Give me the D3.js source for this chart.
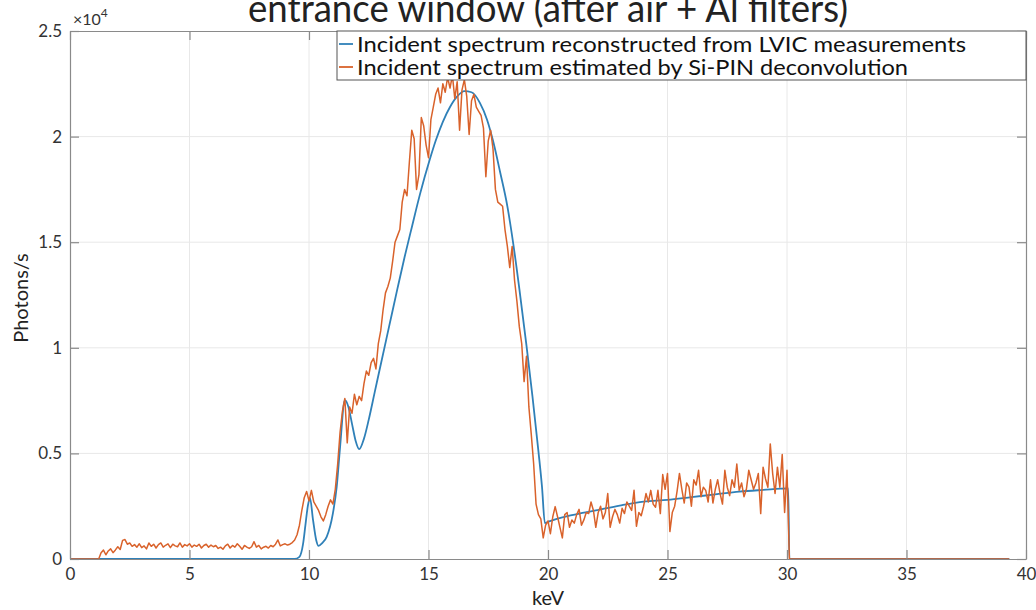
<!DOCTYPE html>
<html><head><meta charset="utf-8">
<script src="https://cdn.jsdelivr.net/npm/d3@7"></script>
<style>
body{margin:0;background:#fff}
svg{display:block}
text{font-family:Lato,"Open Sans",sans-serif;}
</style>
</head><body>
<svg id="c" width="1036" height="610"></svg>
<script>
const titleText = "entrance window (after air + Al filters)";
const xLabel = "keV";
const yLabel = "Photons/s";
const seriesNames = ["Incident spectrum reconstructed from LVIC measurements",
                     "Incident spectrum estimated by Si-PIN deconvolution"];
const xTicks = [0,5,10,15,20,25,30,35,40];
const yTicks = [0,5000,10000,15000,20000,25000];
const yTickLabels = ["0","0.5","1","1.5","2","2.5"];

// LVIC reconstructed spectrum (blue)
const blueKeV = [0,9.4,9.6,9.75,9.85,9.95,10.04,10.17,10.3,10.4,10.55,10.74,11.0,11.16,11.3,11.5,11.65,11.8,11.95,12.1,
  12.3,12.5,12.75,13.0,13.35,13.7,14.0,14.3,14.65,15.05,15.3,15.6,15.9,16.2,16.5,16.8,17.15,17.45,17.7,18.0,
  18.3,18.55,18.8,19.1,19.35,19.6,19.75,19.87,20.02,21,22,23,24,25,26,27,28,29,30.05,30.1,39.3];
const blueVal = [0,0,100,700,1600,2500,2890,1840,900,620,750,1050,2160,3420,5300,7520,7200,6400,5600,5200,
  5700,6600,7900,9200,11000,12800,14300,15700,17300,18900,19800,20700,21400,21900,22150,22100,21600,20800,19800,18300,
  16700,14900,12800,10100,7700,5100,3400,1700,1770,2080,2300,2530,2720,2800,2930,3060,3190,3270,3340,0,0];

// Si-PIN deconvolution spectrum (orange), 0.1 keV bins starting at 1.2 keV
const orangeStartKeV = 1.2, orangeStepKeV = 0.1, orangeEndZeroKeV = 39.3;
const orangeVal = [
  0,300,420,200,380,480,300,430,
  580,450,880,920,700,760,600,680,560,720,
  540,620,480,760,600,700,520,680,760,560,
  650,720,540,700,620,580,760,560,680,620,
  720,560,660,600,700,520,640,700,560,660,
  580,640,500,560,460,620,700,520,640,560,
  720,600,460,640,560,500,580,820,560,640,
  480,560,600,520,640,580,700,900,620,680,
  720,660,700,780,900,1150,1600,2300,2900,3200,
  2750,3250,2700,2500,2300,2000,1800,2100,2500,2800,
  2600,3300,4500,6000,7000,7600,5500,7200,6900,7800,
  7300,7700,7500,8300,8900,8700,9300,9500,9000,10200,
  10800,11800,12600,12900,13300,14100,15000,15300,15600,16900,
  17500,17200,18800,20300,19900,17500,18200,20900,20500,19600,
  19000,20800,21400,22000,22300,21600,22500,22100,22800,22300,
  22900,21800,22600,20300,22200,22700,21900,20100,21700,22000,
  21400,21200,21000,20400,18100,19800,20300,19400,17500,16900,
  16800,16700,15600,14800,13800,14800,13200,12200,11000,10200,
  8400,9600,7200,5900,4500,2600,2100,1900,1000,1600,
  1800,1200,2000,2480,2000,1500,1000,2100,2200,1500,
  1850,1700,2100,2350,1600,1850,2200,2150,2700,2300,
  1500,2200,2500,1900,2200,3100,1500,2000,2350,2100,
  1700,2400,2150,2700,2500,2300,3250,1550,2200,2050,
  2500,3100,2700,3250,2600,2450,3250,2150,4000,3300,
  4050,1300,2200,2500,3200,4050,3300,2650,3600,3400,
  2500,3750,3500,4200,2950,3400,3250,2700,3750,2650,
  3300,3750,3100,2600,4200,3400,3000,3750,3400,4500,
  3250,3600,2950,3300,4200,3750,3300,3600,4050,2150,
  4350,3800,3400,5450,4050,3100,4350,3400,4950,2200,
  4200,0
];

const svg = d3.select("#c");
const X0 = 70, X1 = 1026, Y0 = 559, Y1 = 31;
const x = d3.scaleLinear().domain([0,40]).range([X0,X1]);
const y = d3.scaleLinear().domain([0,25000]).range([Y0,Y1]);
const axisCol = "#8a8a8a", textCol = "#333";
const blueCol = "#2f80b8", orangeCol = "#d9622b";

// title (partially cut off at top, as in the source figure)
svg.append("text").attr("x",548).attr("y",22).attr("text-anchor","middle")
  .attr("font-size",38).attr("fill","#222").attr("textLength",600).attr("lengthAdjust","spacingAndGlyphs")
  .text(titleText);

// grid
const g = svg.append("g");
g.selectAll("line.gx").data(xTicks.slice(1,-1)).join("line")
  .attr("x1",d=>x(d)).attr("x2",d=>x(d)).attr("y1",Y1).attr("y2",Y0)
  .attr("stroke","#e8e8e8").attr("stroke-width",1);
g.selectAll("line.gy").data(yTicks.slice(1,-1)).join("line")
  .attr("y1",d=>y(d)).attr("y2",d=>y(d)).attr("x1",X0).attr("x2",X1)
  .attr("stroke","#e8e8e8").attr("stroke-width",1);

// data lines
const bluePts = blueKeV.map((k,i)=>[k,blueVal[i]]);
const orangePts = [[0,0]].concat(orangeVal.map((v,i)=>[orangeStartKeV+orangeStepKeV*i, v]), [[orangeEndZeroKeV,0]]);
const smooth = d3.line().x(d=>x(d[0])).y(d=>y(d[1])).curve(d3.curveMonotoneX);
const line = d3.line().x(d=>x(d[0])).y(d=>y(d[1]));
svg.append("path").attr("d",smooth(bluePts)).attr("fill","none").attr("stroke",blueCol).attr("stroke-width",1.8).attr("stroke-linejoin","round");
svg.append("path").attr("d",line(orangePts)).attr("fill","none").attr("stroke",orangeCol).attr("stroke-width",1.5).attr("stroke-linejoin","round");

// axes
function styleAxis(sel){
  sel.select(".domain").attr("stroke",axisCol).attr("stroke-width",1.2);
  sel.selectAll(".tick line").attr("stroke",axisCol).attr("stroke-width",1.2);
  sel.selectAll(".tick text").attr("fill",textCol).attr("font-size",17).attr("font-family","Lato, 'Open Sans', sans-serif");
}
svg.append("g").attr("transform",`translate(0,${Y0})`)
  .call(d3.axisBottom(x).tickValues(xTicks).tickFormat(d3.format("d")).tickSizeInner(-9).tickSizeOuter(0).tickPadding(9))
  .call(styleAxis);
svg.append("g").attr("transform",`translate(0,${Y1})`)
  .call(d3.axisTop(x).tickValues(xTicks).tickFormat("").tickSizeInner(-9).tickSizeOuter(0))
  .call(styleAxis);
svg.append("g").attr("transform",`translate(${X0},0)`)
  .call(d3.axisLeft(y).tickValues(yTicks).tickFormat((d,i)=>yTickLabels[i]).tickSizeInner(-9).tickSizeOuter(0).tickPadding(8))
  .call(styleAxis);
svg.append("g").attr("transform",`translate(${X1},0)`)
  .call(d3.axisRight(y).tickValues(yTicks).tickFormat("").tickSizeInner(-9).tickSizeOuter(0))
  .call(styleAxis);

// exponent
const ex = svg.append("text").attr("x",73).attr("y",25).attr("fill",textCol).attr("font-size",16);
ex.append("tspan").text("×10");
ex.append("tspan").attr("dy",-8).attr("font-size",12).text("4");

// axis labels
svg.append("text").attr("x",548).attr("y",605).attr("text-anchor","middle").attr("fill","#222").attr("font-size",20).text(xLabel);
svg.append("text").attr("transform","translate(28,298) rotate(-90)").attr("text-anchor","middle").attr("fill","#222").attr("font-size",20).text(yLabel);

// legend
const lg = svg.append("g");
lg.append("rect").attr("x",337).attr("y",31).attr("width",689).attr("height",49).attr("fill","#fff").attr("stroke","#555").attr("stroke-width",1);
const legCols = [blueCol, orangeCol];
const rowY = [44,67];
const widths = [609,551];
seriesNames.forEach((n,i)=>{
  lg.append("line").attr("x1",339).attr("x2",353).attr("y1",rowY[i]).attr("y2",rowY[i]).attr("stroke",legCols[i]).attr("stroke-width",1.8);
  lg.append("text").attr("x",357).attr("y",rowY[i]+7.5).attr("fill","#111").attr("font-size",21)
    .attr("textLength",widths[i]).attr("lengthAdjust","spacingAndGlyphs").text(n);
});
</script>
</body></html>
